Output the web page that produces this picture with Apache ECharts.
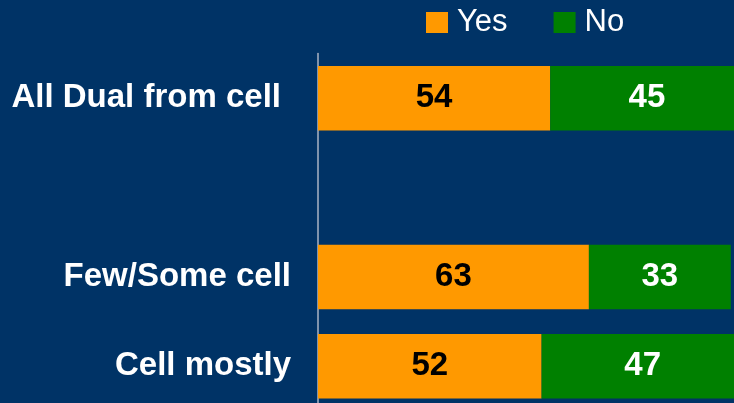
<!DOCTYPE html>
<html>
<head>
<meta charset="utf-8">
<script src="https://cdn.jsdelivr.net/npm/echarts@6/dist/echarts.min.js"></script>
<style>
  html, body { margin: 0; padding: 0; background: #003366; }
  #chart { width: 734px; height: 403px; }
</style>
</head>
<body>
<div id="chart"></div>
<script>
// Survey groups (the blank entry keeps an empty row between groups)
const categories = ['All Dual from cell', '', 'Few/Some cell', 'Cell mostly'];
const yesValues = [54, '-', 63, 52];
const noValues = [45, '-', 33, 47];
const seriesNames = ['Yes', 'No'];

const FONT = 'Liberation Sans, Arial, Helvetica, sans-serif';

const chart = echarts.init(document.getElementById('chart'));
chart.setOption({
  backgroundColor: '#003366',
  animation: false,
  legend: {
    data: seriesNames,
    left: 426,
    top: 7,
    padding: 0,
    icon: 'rect',
    itemWidth: 22,
    itemHeight: 21,
    itemGap: 46,
    textStyle: {
      color: '#ffffff',
      fontFamily: FONT,
      fontSize: 31,
      padding: [0, 0, 0, 4]
    }
  },
  // plot area runs past the right and bottom edges of the canvas
  grid: {
    left: 318,
    top: 53.6,
    width: 430,
    height: 357.4,
    outerBoundsMode: 'none'
  },
  xAxis: {
    type: 'value',
    min: 0,
    max: 100,
    show: false,
    splitLine: { show: false }
  },
  yAxis: {
    type: 'category',
    data: categories,
    inverse: true,
    axisLine: { show: true, lineStyle: { color: '#aab4c4', width: 1.5 } },
    axisTick: { show: false },
    axisLabel: {
      color: '#ffffff',
      fontFamily: FONT,
      fontWeight: 'bold',
      fontSize: 33,
      margin: 27,
      formatter: function (v, i) {
        return i === 0 ? '{first|' + v + '}' : v;
      },
      rich: {
        first: {
          color: '#ffffff',
          fontFamily: FONT,
          fontWeight: 'bold',
          fontSize: 33,
          padding: [0, 10, 0, 0]
        }
      }
    }
  },
  series: [
    {
      name: 'Yes',
      type: 'bar',
      stack: 'total',
      clip: false,
      barWidth: 64.5,
      data: yesValues,
      itemStyle: { color: '#ff9900' },
      label: {
        show: true,
        position: 'inside',
        color: '#000000',
        fontFamily: FONT,
        fontWeight: 'bold',
        fontSize: 33
      }
    },
    {
      name: 'No',
      type: 'bar',
      stack: 'total',
      clip: false,
      barWidth: 64.5,
      data: noValues,
      itemStyle: { color: '#008000' },
      label: {
        show: true,
        position: 'inside',
        color: '#ffffff',
        fontFamily: FONT,
        fontWeight: 'bold',
        fontSize: 33
      }
    }
  ]
});
</script>
</body>
</html>
